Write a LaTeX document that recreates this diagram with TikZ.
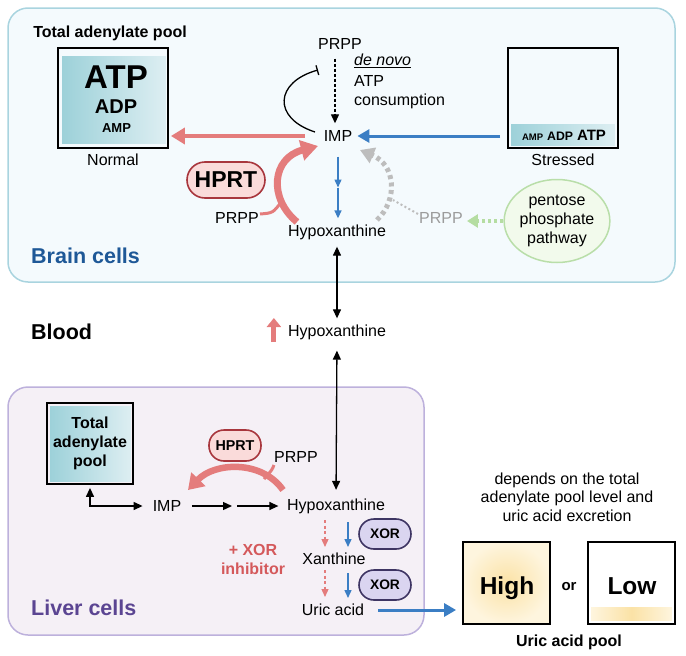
\documentclass[tikz,border=0pt]{standalone}
\usepackage{fontspec}
\setmainfont{Liberation Sans}
\usetikzlibrary{arrows.meta,shapes.geometric}
\definecolor{pinkc}{HTML}{E47C7C}
\definecolor{bluec}{HTML}{3B7EC4}
\definecolor{teal1}{HTML}{9DD1D9}
\definecolor{teal2}{HTML}{DDEEF2}
\definecolor{brainln}{HTML}{A9D4DF}
\definecolor{brainbg}{HTML}{F4FAFD}
\definecolor{liverln}{HTML}{BDB1DC}
\definecolor{liverbg}{HTML}{F5F0F6}
\definecolor{hprtbg}{HTML}{FADBDA}
\definecolor{hprtln}{HTML}{A8363D}
\definecolor{xorbg}{HTML}{DAD5F0}
\definecolor{xorln}{HTML}{3E3563}
\definecolor{brainc}{HTML}{1E5897}
\definecolor{liverc}{HTML}{5B4592}
\definecolor{inhibc}{HTML}{D4595B}
\definecolor{grayc}{HTML}{BDBDBD}
\definecolor{graytxt}{HTML}{9B9B9B}
\definecolor{greenc}{HTML}{B5DDA2}
\definecolor{greenln}{HTML}{B9DEA9}
\definecolor{greenbg}{HTML}{F2FAEC}
\definecolor{yel1}{HTML}{FBE2A6}
\definecolor{yel2}{HTML}{FEF5DE}

\begin{document}
\begin{tikzpicture}
[x=1pt,y=-1pt,>={Triangle[length=9pt,width=8pt]},
 txt/.style={font=\fontsize{16}{19}\selectfont,inner sep=1pt},
 btxt/.style={font=\fontsize{16}{19}\selectfont\bfseries,inner sep=1pt},
 celllbl/.style={font=\fontsize{21.5}{24}\selectfont\bfseries,inner sep=1pt,anchor=west},
 poolbox/.style={draw,line width=1.8pt,inner sep=0pt},
 pill/.style={draw=hprtln,fill=hprtbg,line width=1.6pt,inner sep=0pt},
 xorpill/.style={draw=xorln,fill=xorbg,line width=1.6pt,inner sep=0pt,rounded corners=15pt,
   minimum width=52pt,minimum height=30pt,font=\fontsize{13.8}{15}\selectfont\bfseries},
 blk/.style={line width=1.3pt,->},
 dashblk/.style={line width=1.3pt,dash pattern=on 3pt off 2pt,->},
 tbar/.style={line width=1.3pt,-{Bar[width=10pt,line width=1.3pt]}},
 pinkarr/.style={draw=pinkc,line width=4.5pt,-{Triangle[length=14pt,width=16pt]}},
 hprtarr/.style={draw=pinkc,line width=7pt,-{Triangle[length=17pt,width=20pt]}},
 bluearr/.style={draw=bluec,line width=3pt,-{Triangle[length=12pt,width=13pt]}},
 bluesm/.style={draw=bluec,line width=1.4pt,-{Triangle[length=8pt,width=7pt]}},
 pinkdash/.style={draw=pinkc,line width=1.3pt,dash pattern=on 3pt off 2.5pt,-{Triangle[length=8pt,width=7pt]}},
 graydot/.style={draw=grayc,line width=5pt,dash pattern=on 4pt off 3.5pt,-{Triangle[length=14pt,width=16pt]}},
 greendot/.style={draw=greenc,line width=4pt,dash pattern=on 3pt off 3pt,-{Triangle[length=11pt,width=13pt]}}]

	\useasboundingbox (0,0) rectangle (686,656);
	%\draw[gray!30,step=20] (0,0) grid (686,656);

	\draw[draw=brainln,fill=brainbg,line width=1.5pt,rounded corners=20pt] (8,8) rectangle (675,282);
	\draw[draw=liverln,fill=liverbg,line width=1.5pt,rounded corners=20pt] (8,387) rectangle (424,635);

	% brain cells
	\node[btxt] (title1) at (110,33) {Total adenylate pool};
	\node[poolbox,minimum width=110pt,minimum height=100pt] (normal) at (113,98) {};
	\shade[left color=teal1,right color=teal2] ([shift={(5,9)}]normal.north west) rectangle ([shift={(-3,-5)}]normal.south east);
	\node[font=\fontsize{33}{36}\selectfont\bfseries,inner sep=0pt] (atp1) at (116,77.5) {ATP};
	\node[font=\fontsize{20}{22}\selectfont\bfseries,inner sep=0pt] (adp1) at (116,106.5) {ADP};
	\node[font=\fontsize{13}{15}\selectfont\bfseries,inner sep=0pt] (amp1) at (116.5,128) {AMP};
	\node[txt] (normlbl) at (113,160) {Normal};

	\node[poolbox,minimum width=110pt,minimum height=100pt] (stressed) at (563,98) {};
	\shade[left color=teal1,right color=teal2] ([shift={(4,-24)}]stressed.south west) rectangle ([shift={(-4,-3)}]stressed.south east);
	\node[inner sep=0pt,anchor=base,font=\bfseries] (stresstxt) at (564,140)
	{{\fontsize{9.5}{11}\selectfont AMP}\hspace{4pt}{\fontsize{12.3}{14}\selectfont ADP}\hspace{4pt}{\fontsize{15}{17}\selectfont ATP}};
	\node[txt] (stresslbl) at (563,160) {Stressed};

	\node[txt] (prpp1) at (340,44) {PRPP};
	\node[txt,align=left,anchor=north west] (denovo) at (353,53) {\underline{\itshape de novo}\\[2pt]ATP\\consumption};
	\node[txt] (imp1) at (338,136) {IMP};
	\coordinate (inh) at (318,70);
	\node[txt] (hx1) at (337,232) {Hypoxanthine};
	\coordinate (mid1) at (338,187.5);
	\node[pill,rounded corners=18pt,minimum width=78pt,minimum height=36pt,font=\fontsize{23}{25}\selectfont\bfseries] (hprt1) at (226,180) {HPRT};
	\node[txt] (prpp2) at (237,218) {PRPP};
	\node[txt,text=graytxt] (prpp3) at (441,218) {PRPP};
	\coordinate (gj) at (393,200);
	\node[txt,ellipse,draw=greenln,fill=greenbg,line width=1.5pt,minimum width=105pt,minimum height=83pt,inner sep=0pt,align=center] (ppp) at (557,221) {pentose\\phosphate\\pathway};
	\node[celllbl,text=brainc] (brainlbl) at (30,256) {Brain cells};

	\draw[pinkarr,shorten <=18pt,shorten >=2pt] (imp1.west) -- (imp1.west -| normal.east);
	\draw[bluearr,shorten <=7pt,shorten >=4pt] (imp1.east -| stressed.west) -- (imp1.east);
	\draw[dashblk,shorten <=8pt,shorten >=6pt] ([xshift=-5pt]prpp1.south) -- ([xshift=-3pt]imp1.north);
	\draw[tbar] ([shift={(-23,-4)}]imp1.center) .. controls (272,118) and (275,82) .. (inh);
	\draw[bluesm,shorten <=14pt] (mid1 |- imp1.south) -- (mid1);
	\draw[bluesm,shorten >=5pt] (mid1) -- (mid1 |- hx1.north);
	\draw[hprtarr] ([shift={(-40,-10)}]hx1.center) .. controls (268,198) and (272,158) .. ([shift={(-20,10)}]imp1.center);
	\draw[draw=pinkc,line width=3pt] ([shift={(0,-4)}]prpp2.east) .. controls (273,213) .. (282,201);
	\draw[graydot] ([shift={(40,-12)}]hx1.center) .. controls (398,200) and (396,165) .. ([shift={(22,14)}]imp1.center);
	\draw[draw=grayc,line width=2pt,dash pattern=on 2pt off 2.5pt] ([shift={(0,-4)}]prpp3.west) -- (gj);
	\draw[greendot,shorten >=3pt] (ppp.west) -- (ppp.west -| prpp3.east);

	% blood
	\node[celllbl] (bloodlbl) at (30,332) {Blood};
	\node[txt] (hx2) at (337,332) {Hypoxanthine};
	\draw[draw=pinkc,line width=5pt,-{Triangle[length=9pt,width=14pt]}] ([shift={(-13,10)}]hx2.west) -- ++(0,-24);
	\draw[blk,<->,shorten <=6pt,shorten >=5pt] (hx1.south) -- (hx2.north);

	% liver cells
	\node[poolbox,minimum width=86pt,minimum height=81pt] (pool2) at (90,443.5) {};
	\shade[left color=teal1,right color=teal2] ([shift={(4,4)}]pool2.north west) rectangle ([shift={(-3,-3)}]pool2.south east);
	\node[btxt,align=center] (pooltxt) at (90,443) {Total\\adenylate\\pool};
	\node[txt] (imp2) at (167,506) {IMP};
	\coordinate (mid2) at (234.5,506);
	\node[txt] (hx3) at (336,506) {Hypoxanthine};
	\node[pill,rounded corners=15pt,minimum width=52pt,minimum height=31pt,font=\fontsize{14.3}{16}\selectfont\bfseries] (hprt2) at (235,445.5) {HPRT};
	\node[txt] (prpp4) at (296,457) {PRPP};
	\node[txt] (xan) at (334,559) {Xanthine};
	\node[txt] (uric) at (333,610) {Uric acid};
	\node[xorpill] (xor1) at (385,534) {XOR};
	\node[xorpill] (xor2) at (385,585) {XOR};
	\node[btxt,text=inhibc,align=center] (inhtxt) at (253,559.5) {+ XOR\\inhibitor};
	\node[celllbl,text=liverc] (liverlbl) at (30,608) {Liver cells};

	\draw[blk,<->,shorten <=10pt,shorten >=7.5pt] (hx2.south) -- (hx3.north);
	\draw[blk,<->,shorten <=3pt,shorten >=9pt] (pool2.south) |- (imp2.west);
	\draw[blk,shorten <=9.5pt,shorten >=2.5pt] (imp2.east) -- (mid2);
	\draw[blk,shorten <=2.5pt,shorten >=7.5pt] (mid2) -- (hx3.west);
	\draw[hprtarr,line width=6.5pt,-{Triangle[length=15pt,width=19pt]}] ([shift={(-53,-16)}]hx3.center) .. controls (262,460) and (215,462) .. ([shift={(21,-16)}]imp2.center);
	\draw[draw=pinkc,line width=3pt] ([shift={(-22,8)}]prpp4.center) .. controls (272,470) .. (264,479);
	\draw[pinkdash] ([shift={(-11,14)}]hx3.center) -- ([shift={(-9,-12)}]xan.center);
	\draw[pinkdash] ([shift={(-9,11)}]xan.center) -- ([shift={(-8,-13)}]uric.center);
	\draw[bluesm] ([shift={(12,16)}]hx3.center) -- ([shift={(14,-12)}]xan.center);
	\draw[bluesm] ([shift={(14,14)}]xan.center) -- ([shift={(15,-12)}]uric.center);

	% uric acid pool
	\node[txt,align=center,font=\fontsize{16}{18.5}\selectfont] (dep) at (567,497) {depends on the total\\adenylate pool level and\\uric acid excretion};
	\node[poolbox,inner color=yel1,outer color=yel2,minimum width=87pt,minimum height=82pt] (high) at (506.5,583) {};
	\node[poolbox,fill=white,minimum width=87pt,minimum height=82pt] (low) at (631.5,583) {};
	\shade[left color=yel2,right color=yel2,middle color=yel1] ([shift={(4,-17)}]low.south west) rectangle ([shift={(-4,-4)}]low.south east);
	\node[font=\fontsize{24.5}{27}\selectfont\bfseries,inner sep=0pt,anchor=base] (hightxt) at (507,594) {High};
	\node[font=\fontsize{24.5}{27}\selectfont\bfseries,inner sep=0pt,anchor=base] (lowtxt) at (632,594) {Low};
	\node[font=\fontsize{15}{17}\selectfont\bfseries,inner sep=0pt,anchor=base] (ortxt) at (569,590) {or};
	\node[btxt] (uapool) at (569,642) {Uric acid pool};
	\draw[bluearr,shorten <=13pt,shorten >=6pt] (uric.east) -- (uric.east -| high.west);
\end{tikzpicture}
\end{document}
